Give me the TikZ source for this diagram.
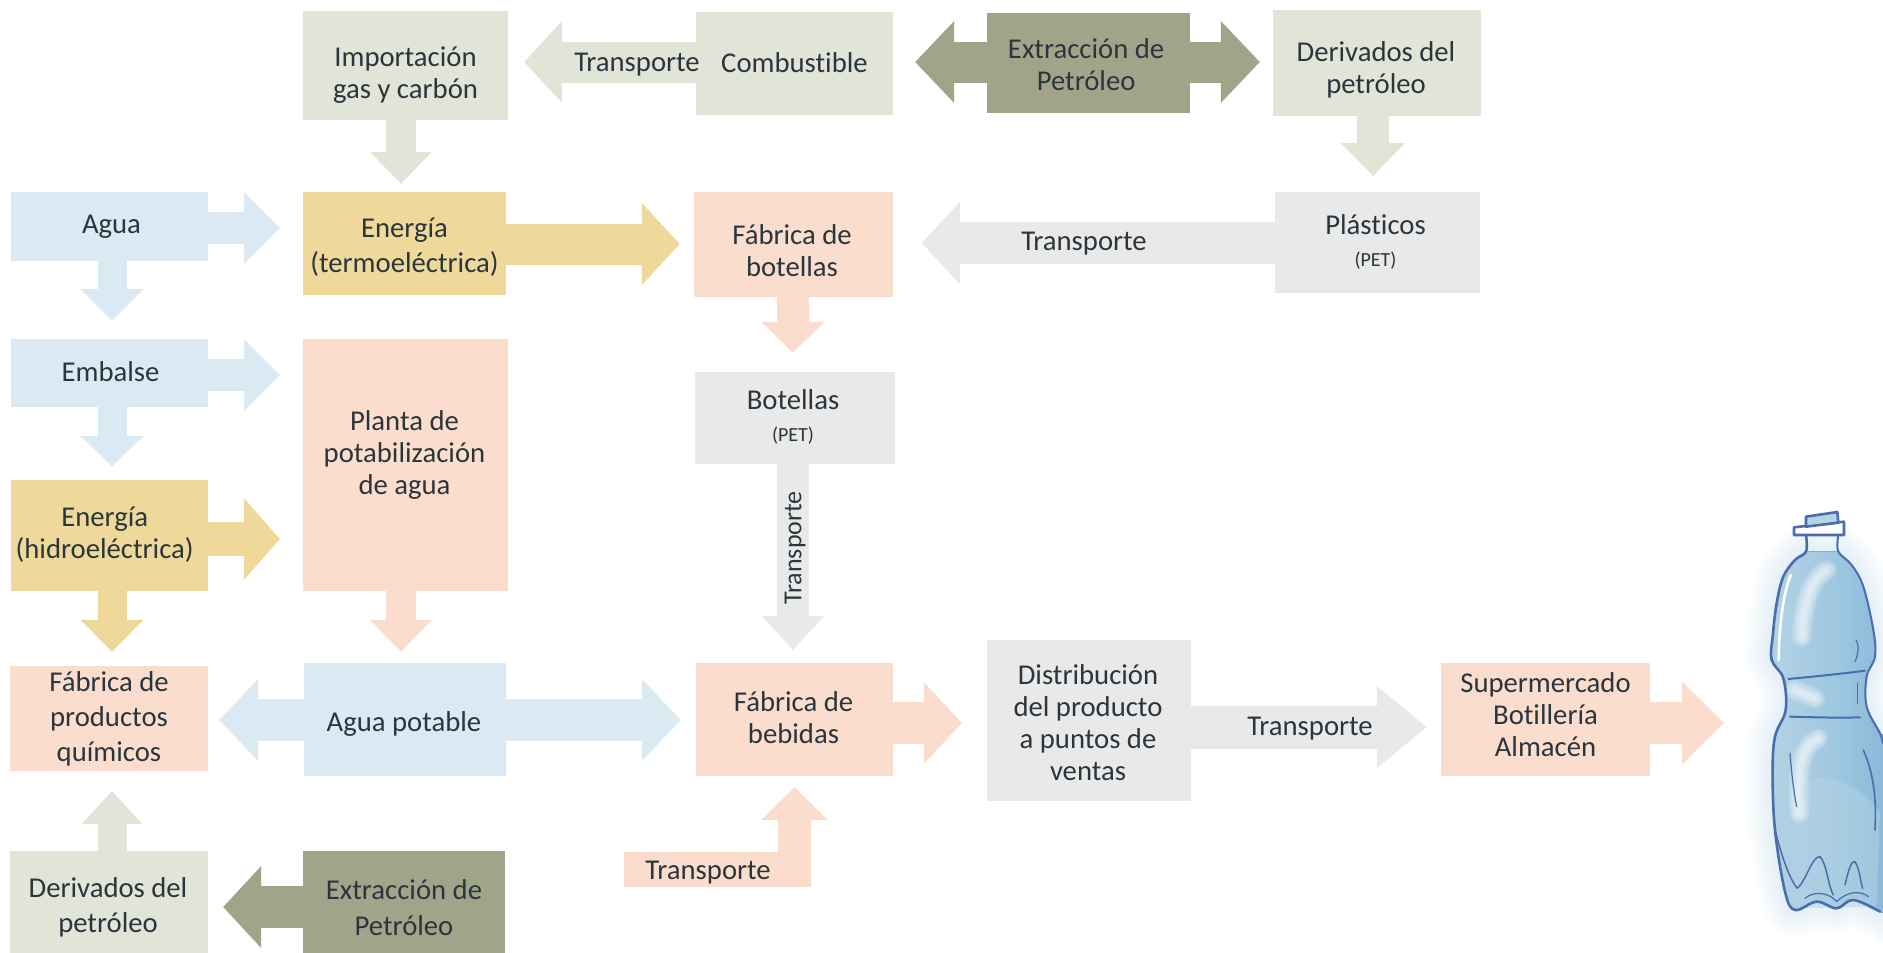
\documentclass[tikz,border=0pt]{standalone}
\usepackage{fontspec}
\setmainfont[Ligatures=NoCommon]{Carlito}
\usetikzlibrary{arrows.meta}
\definecolor{cblue}{HTML}{DAE9F2}
\definecolor{cpeach}{HTML}{FBDDCD}
\definecolor{csage}{HTML}{E1E4D6}
\definecolor{colive}{HTML}{A2A48A}
\definecolor{cyellow}{HTML}{EFD99A}
\definecolor{cgrey}{HTML}{E9E9E9}
\definecolor{ctext}{HTML}{2A363D}
\definecolor{bline}{HTML}{4A6DAD}
\definecolor{bhalo}{HTML}{9CC6E0}
\definecolor{bdark}{HTML}{7FB0D0}
\definecolor{blight}{HTML}{B4D3E4}
\tikzset{
  box/.style n args={3}{fill=#1,minimum width=#2pt,minimum height=#3pt,inner sep=0pt,align=center,text=ctext,font=\fontsize{28.7}{32}\selectfont},
  lbl/.style={inner sep=0pt,text=ctext,font=\fontsize{28.7}{32}\selectfont},
  ba/.style n args={3}{line width=#1pt,arrows={-{Triangle[length=#2pt 0 0,width=#3pt 0 0,line width=0pt]}}},
  gap/.style={shorten >=#1pt},
  halo/.style={draw=bhalo,opacity=.03,line join=round},
  shine/.style={draw=white,line cap=round,opacity=.16},
  bstroke/.style={draw=bline,line width=2.6pt,line cap=round,line join=round}
}
\newcommand{\pet}{{\fontsize{20}{24}\selectfont(PET)}}
% text in a box, moved right by #1 and down by #2 without moving the box
\newcommand{\tx}[3]{\raisebox{-#2}[\height][\depth]{\hspace*{#1}\begin{tabular}{@{}c@{}}#3\end{tabular}\hspace*{-#1}}}
\def\bodypts{(258,215)(225,240)(190,290)(170,370)(158,470)(155,540)(190,595)(197,690)(165,770)(158,880)(165,1050)(195,1235)(225,1290)(290,1265)(350,1285)(400,1260)(480,1295)(560,1290)(560,800)(480,760)(440,680)(440,590)(465,530)(460,450)(430,320)(395,255)(355,215)}
\begin{document}
\begin{tikzpicture}[x=1pt,y=-1pt]
\useasboundingbox (0,0) rectangle (1883,953);
% boxes
\node[box={csage}{205}{109}] (imp) at (405.5,65.5) {\tx{0pt}{11pt}{Importación\\gas y carbón}};
\node[box={csage}{197}{103}] (comb) at (794.5,63.5) {\tx{0pt}{2.4pt}{Combustible}};
\node[box={colive}{203}{100}] (extra) at (1088.5,63) {\tx{-2.4pt}{5.4pt}{Extracción de\\Petróleo}};
\node[box={csage}{208}{106}] (dera) at (1377,63) {\tx{-1pt}{8pt}{Derivados del\\petróleo}};
\node[box={cblue}{197}{69}] (agua) at (109.5,226.5) {\tx{2pt}{1pt}{Agua}};
\node[box={cyellow}{203}{103}] (ener) at (404.5,243.5) {\tx{0pt}{4.8pt}{Energía\\[3pt](termoeléctrica)}};
\node[box={cpeach}{199}{105}] (fbot) at (793.5,244.5) {\tx{-1.5pt}{9.8pt}{Fábrica de\\botellas}};
\node[box={cgrey}{205}{101}] (plas) at (1377.5,242.5) {\tx{-2pt}{2pt}{Plásticos\\\pet}};
\node[box={cblue}{197}{68}] (emb) at (109.5,373) {\tx{1pt}{2.4pt}{Embalse}};
\node[box={cpeach}{205}{252}] (planta) at (405.5,465) {\tx{-1pt}{-8.6pt}{Planta de\\potabilización\\de agua}};
\node[box={cgrey}{200}{92}] (bot) at (795,418) {\tx{-2pt}{1pt}{Botellas\\\pet}};
\node[box={cyellow}{197}{111}] (hidro) at (109.5,535.5) {\tx{-4.8pt}{1pt}{Energía\\(hidroeléctrica)}};
\node[box={cpeach}{198}{105}] (fprod) at (109,718.5) {\tx{0pt}{1.5pt}{Fábrica de\\[3pt]productos\\[3pt]químicos}};
\node[box={cblue}{202}{113}] (apot) at (405,719.5) {\tx{-1pt}{5.8pt}{Agua potable}};
\node[box={cpeach}{197}{113}] (fbeb) at (794.5,719.5) {\tx{-1pt}{1.2pt}{Fábrica de\\bebidas}};
\node[box={cgrey}{204}{161}] (dist) at (1089,720.5) {\tx{-1pt}{6pt}{Distribución\\del producto\\a puntos de\\ventas}};
\node[box={cpeach}{209}{113}] (sup) at (1545.5,719.5) {\tx{0pt}{-1.2pt}{Supermercado\\Botillería\\Almacén}};
\node[box={csage}{198}{102}] (derb) at (109,902) {\tx{-1pt}{7pt}{Derivados del\\[3pt]petróleo}};
\node[box={colive}{202}{102}] (extrb) at (404,902) {\tx{0pt}{8.6pt}{Extracción de\\[4pt]Petróleo}};
\node[box={cpeach}{187}{35}] (trc) at (717.5,869.5) {\tx{-9.5pt}{3.6pt}{Transporte}};
\coordinate (fin) at (1724,723);
% connectors
\draw[draw=csage,ba={30}{32}{62},gap=8] (imp.south -| 401,0) -- (ener.north -| 401,0);
\draw[draw=csage,ba={41}{38}{82},gap=16] (comb.west |- 0,62) -- (imp.east |- 0,62);
\draw[draw=colive,ba={41}{39}{82},gap=22] (extra.west |- 0,62) -- (comb.east |- 0,62);
\draw[draw=colive,ba={41}{39}{82},gap=13] (extra.east |- 0,62) -- (dera.west |- 0,62);
\draw[draw=csage,ba={32}{33}{65},gap=16] (dera.south -| 1373,0) -- (plas.north -| 1373,0);
\draw[draw=cblue,ba={32}{36}{72},gap=23] (agua.east |- 0,228) -- (ener.west |- 0,228);
\draw[draw=cblue,ba={29}{32}{63},gap=18] (agua.south -| 112,0) -- (emb.north -| 112,0);
\draw[draw=cblue,ba={32}{36}{72},gap=23] (emb.east |- 0,375) -- (planta.west |- 0,375);
\draw[draw=cblue,ba={29}{31}{63},gap=13] (emb.south -| 112,0) -- (hidro.north -| 112,0);
\draw[draw=cyellow,ba={34}{36}{82},gap=23] (hidro.east |- 0,539) -- (planta.west |- 0,539);
\draw[draw=cyellow,ba={29}{32}{63},gap=14] (hidro.south -| 112,0) -- (fprod.north -| 112,0);
\draw[draw=cyellow,ba={41}{38}{82},gap=14] (ener.east |- 0,244) -- (fbot.west |- 0,244);
\draw[draw=cgrey,ba={42}{38}{82},gap=28.6] (plas.west |- 0,243) -- (fbot.east |- 0,243);
\draw[draw=cpeach,ba={32}{31}{63},gap=19] (fbot.south -| 793,0) -- (bot.north -| 793,0);
\draw[draw=cgrey,ba={32}{34}{63},gap=13] (bot.south -| 793,0) -- (fbeb.north -| 793,0);
\draw[draw=cpeach,ba={30}{32}{62},gap=11] (planta.south -| 401,0) -- (apot.north -| 401,0);
\draw[draw=cblue,ba={42}{39}{82},gap=11] (apot.west |- 0,720) -- (fprod.east |- 0,720);
\draw[draw=cblue,ba={42}{39}{82},gap=15] (apot.east |- 0,720) -- (fbeb.west |- 0,720);
\draw[draw=cpeach,ba={42}{38}{82},gap=25] (fbeb.east |- 0,723) -- (dist.west |- 0,723);
\draw[draw=cgrey,ba={43}{50}{82},gap=14] (dist.east |- 0,727) -- (sup.west |- 0,727);
\draw[draw=cpeach,ba={42}{42}{83}] (sup.east |- fin) -- (fin);
\draw[draw=csage,ba={29}{33}{61},gap=20] (derb.north -| 112,0) -- (fprod.south -| 112,0);
\draw[draw=colive,ba={42}{38}{82},gap=15] (extrb.west |- 0,907) -- (derb.east |- 0,907);
\draw[draw=cpeach,ba={33}{33}{67},gap=11] (trc.north -| fbeb.south) -- (fbeb.south);
% connector labels
\node[lbl] (ta) at (637,65) {Transporte};
\node[lbl] (tb) at (1084,244) {Transporte};
\node[lbl] (tc) at (1310,729) {Transporte};
\node[lbl,rotate=90,font=\fontsize{26}{30}\selectfont] (td) at (795,548) {Transporte};
% bottle
\begin{scope}[shift={(1720,480)},x=0.3333pt,y=-0.3333pt]
\foreach \w in {16,32,...,160}{
  \draw[halo,line width=\w*0.3333pt] plot[smooth,tension=.6] coordinates {\bodypts} -- cycle;
}
\fill[left color=blight,right color=bdark,middle color=bhalo] plot[smooth,tension=.6] coordinates {\bodypts} -- cycle;
\fill[blight,opacity=.5] (215,900) .. controls (300,880) and (420,900) .. (480,1000) -- (470,1280) -- (225,1285) -- cycle;
\foreach \w in {10,20,...,60}{
  \draw[shine,line width=\w*0.3333pt] (320,270) .. controls (270,300) and (250,370) .. (245,470);
  \draw[shine,line width=\w*0.3333pt] (295,775) .. controls (240,800) and (230,880) .. (238,1000);
  \draw[shine,line width=\w*0.3333pt] (225,630) -- (285,655);
}
\draw[draw=white,line width=2.6pt,line cap=round] (212,285) .. controls (190,340) and (178,430) .. (176,540);
\draw[bstroke,fill=white] (222,142) -- (372,125) -- (372,165) -- (222,165) -- cycle;
\draw[bstroke,fill=blight] (258,110) -- (352,96) -- (355,128) -- (258,140) -- cycle;
\draw[bstroke] plot[smooth,tension=.6] coordinates {(258,165)(258,215)(225,240)(190,290)(170,370)(158,470)(155,540)(190,595)(197,690)(165,770)(158,880)(165,1050)(195,1235)(225,1290)(290,1265)(350,1285)(400,1260)(480,1295)};
\draw[bstroke,line width=2pt] plot[smooth,tension=.6] coordinates {(355,165)(355,215)(395,255)(430,320)(460,450)(465,530)(440,590)(440,680)(480,760)(489,790)};
\draw[bstroke,line width=2pt] (205,597) .. controls (280,590) and (360,582) .. (435,572);
\draw[bstroke,line width=2pt] (210,710) .. controls (280,712) and (360,714) .. (420,712);
\draw[bstroke,line width=1.5pt] (165,1050) .. controls (185,1130) and (210,1200) .. (232,1225) .. controls (260,1200) and (275,1130) .. (300,1130) .. controls (320,1150) and (325,1220) .. (340,1245);
\draw[bstroke,line width=1.5pt] (375,1215) .. controls (385,1170) and (395,1140) .. (405,1145) .. controls (420,1170) and (420,1200) .. (428,1225);
\draw[bstroke,line width=1.2pt] (255,1255) .. controls (285,1230) and (330,1240) .. (350,1265) .. controls (380,1235) and (420,1230) .. (445,1250);
\draw[bstroke,line width=1.6pt] (430,810) .. controls (460,880) and (470,950) .. (465,1050);
\draw[bstroke,line width=1.2pt] (210,820) .. controls (215,880) and (220,930) .. (230,980);
\draw[bstroke,line width=1.2pt] (408,480) .. controls (420,500) and (412,530) .. (405,545);
\draw[bstroke,line width=1.6pt] (412,610) -- (412,670);
\end{scope}
\end{tikzpicture}
\end{document}
